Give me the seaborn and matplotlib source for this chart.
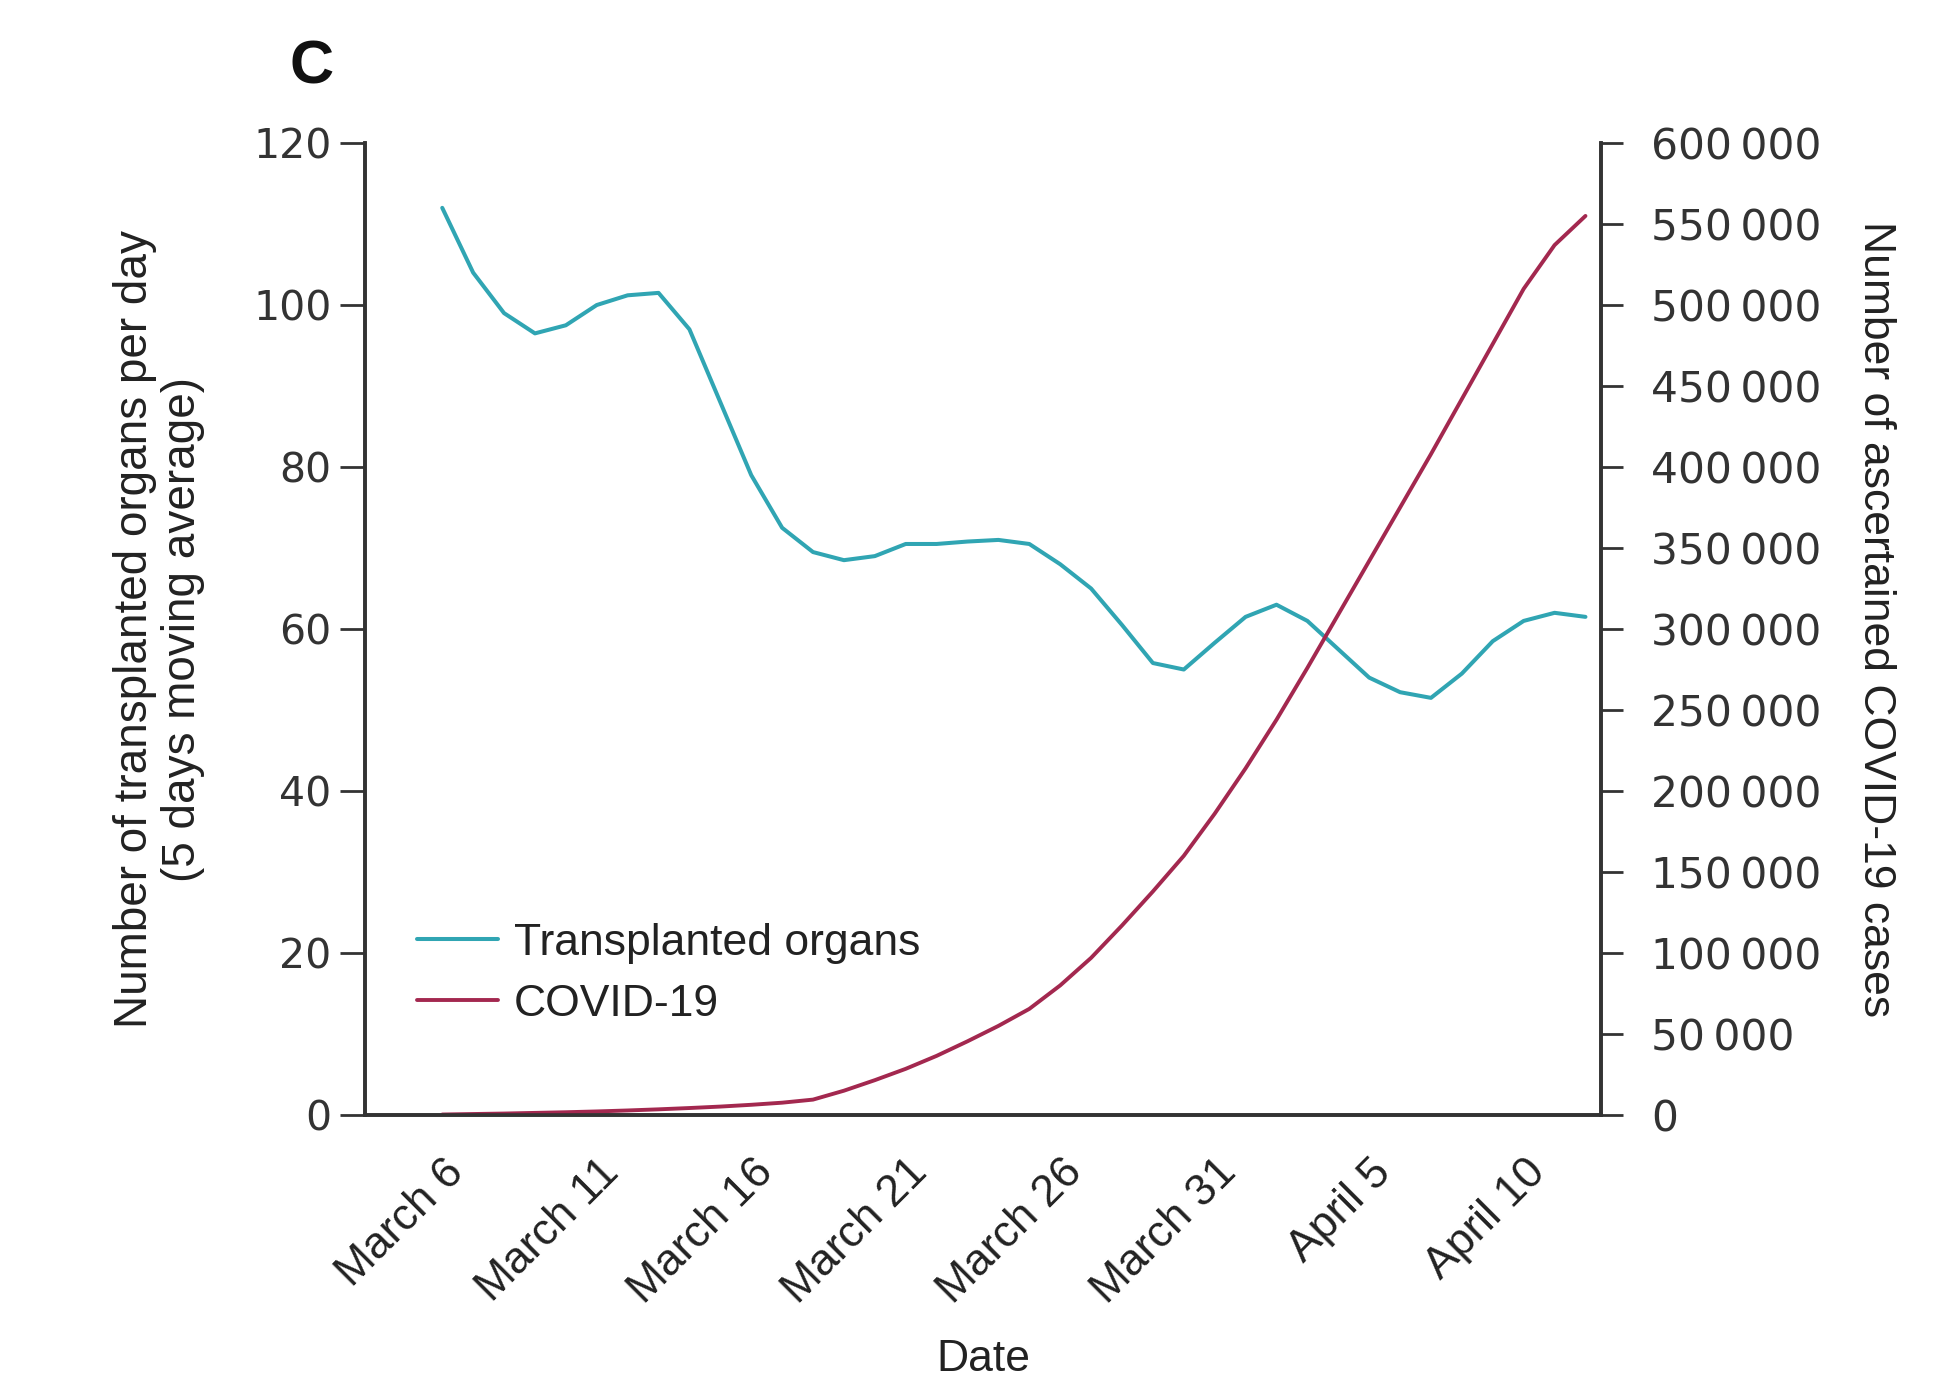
import numpy as np
import pandas as pd
import matplotlib
matplotlib.use("Agg")
import matplotlib.pyplot as plt
import matplotlib.transforms as mtransforms
from matplotlib.ticker import FuncFormatter
import seaborn as sns

# --- data (days counted from March 6) ---
days = [2.5, 3.5, 4.5, 5.5, 6.5, 7.5, 8.5, 9.5, 10.5, 11.5, 12.5, 13.5, 14.5,
        15.5, 16.5, 17.5, 18.5, 19.5, 20.5, 21.5, 22.5, 23.5, 24.5, 25.5, 26.5,
        27.5, 28.5, 29.5, 30.5, 31.5, 32.5, 33.5, 34.5, 35.5, 36.5, 37.5, 38.5, 39.5]
organs = [112, 104, 99, 96.5, 97.5, 100, 101.2, 101.5, 97, 88, 79, 72.5, 69.5,
          68.5, 69, 70.5, 70.5, 70.8, 71, 70.5, 68, 65, 60.5, 55.8, 55,
          58.3, 61.5, 63, 61, 57.5, 54, 52.2, 51.5, 54.5, 58.5, 61, 62, 61.5]
covid = [300, 600, 900, 1300, 1700, 2200, 2800, 3500, 4300, 5200, 6300, 7600, 9500,
         15000, 21500, 28500, 36500, 45500, 55000, 65500, 80000, 97000, 117000, 138000, 160000,
         186000, 214000, 244000, 276000, 309000, 342000, 375000, 408000, 442000, 476000, 510000, 537000, 555000]

tick_days = [0, 5, 10, 15, 20, 25, 30, 35, 40]
tick_labels = ['March 6', 'March 11', 'March 16', 'March 21', 'March 26',
               'March 31', 'April 5', 'April 10', '']

df = pd.DataFrame({'day': days, 'organs': organs, 'covid': covid})

sns.set_style("white")
label_font = ['Liberation Sans', 'DejaVu Sans']
plt.rcParams['font.family'] = ['DejaVu Sans']

teal = '#30a5b3'
crimson = '#a3284f'
axis_col = '#333333'
text_col = '#222222'
lab_size = 32

fig = plt.figure(figsize=(19.54, 13.82), dpi=100)
ax = fig.add_axes([0.1868, 0.1932, 0.6325, 0.7033])
ax2 = ax.twinx()

sns.lineplot(data=df, x='day', y='organs', ax=ax, color=teal, lw=2.9, label='Transplanted organs', legend=False)
sns.lineplot(data=df, x='day', y='covid', ax=ax2, color=crimson, lw=2.8, label='COVID-19', legend=False)

ax.set_xlim(0, 40)
ax.set_ylim(0, 120)
ax2.set_ylim(0, 600000)
ax.set_yticks(range(0, 121, 20))
ax2.set_yticks(range(0, 600001, 50000))
ax2.yaxis.set_major_formatter(FuncFormatter(lambda v, p: f"{int(v):,}".replace(',', '\u2009')))

for a in (ax, ax2):
    for s in a.spines.values():
        s.set_color(axis_col)
        s.set_linewidth(2.6)
    a.spines['top'].set_visible(False)

ax.tick_params(axis='y', direction='out', length=18, width=2, colors=axis_col, labelsize=29.5, pad=6)
ax2.tick_params(axis='y', direction='out', length=16, width=2, colors=axis_col, labelsize=30.5, pad=20)
ax.tick_params(axis='x', direction='out', length=14, width=2, colors=axis_col, pad=8)

ax.set_xticks(tick_days)
ax.set_xticklabels(tick_labels, rotation=45, ha='right', va='top', rotation_mode='anchor',
                   fontsize=lab_size, family=label_font, color=text_col)
shift = mtransforms.ScaledTranslation(0.78, -0.06, fig.dpi_scale_trans)
for lbl in ax.get_xticklabels():
    lbl.set_transform(lbl.get_transform() + shift)

ax.set_xlabel('Date', fontsize=lab_size, family=label_font, color=text_col)
ax.xaxis.set_label_coords(0.5, -0.252)
ax.xaxis.label.set_va('center')

ax.set_ylabel('Number of transplanted organs per day\n(5 days moving average)',
              fontsize=33, family=label_font, color=text_col, linespacing=1.1)
ax.yaxis.set_label_coords(-0.1667, 0.5)
ax.yaxis.label.set_va('center')

ax2.set_ylabel('Number of ascertained COVID-19 cases', fontsize=lab_size, family=label_font,
               color=text_col, rotation=270)
ax2.yaxis.set_label_coords(1.2225, 0.51)
ax2.yaxis.label.set_va('center')

h1, l1 = ax.get_legend_handles_labels()
h2, l2 = ax2.get_legend_handles_labels()
leg = ax.legend(h1 + h2, l1 + l2, loc='upper left', bbox_to_anchor=(0.042, 0.198),
                frameon=False, handlelength=1.82, handletextpad=0.36, labelspacing=0.46,
                borderaxespad=0, borderpad=0, prop={'family': label_font, 'size': lab_size})
for t in leg.get_texts():
    t.set_color(text_col)

fig.text(0.1597, 0.951, 'C', fontsize=44, family=label_font, weight='bold', color='#111111',
         va='center', ha='center')

fig.savefig('out.png', dpi=100)
